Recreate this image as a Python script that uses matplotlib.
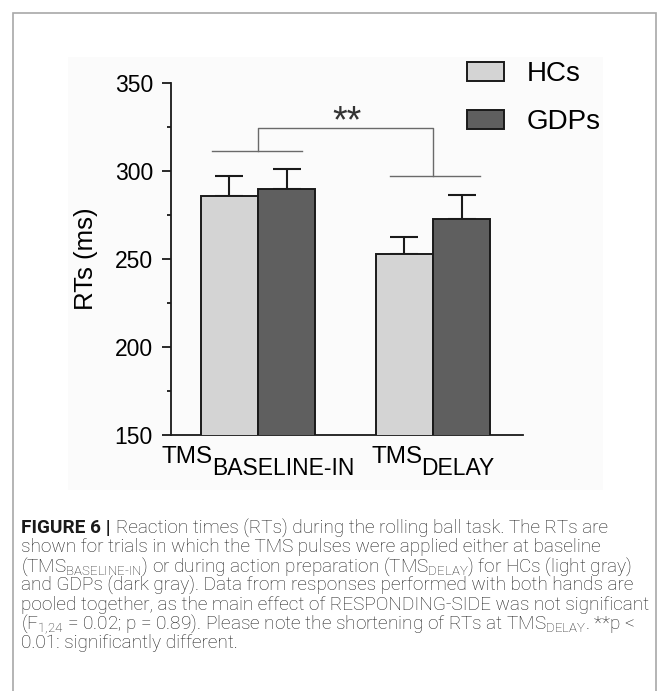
"""
Reaction times (RTs) during the rolling ball task, HCs vs GDPs
"""

import matplotlib
matplotlib.use('Agg')
import matplotlib.pyplot as plt
import numpy as np
from matplotlib.patches import Patch, Rectangle
from matplotlib.transforms import blended_transform_factory, offset_copy, IdentityTransform

# data
conditions = ['BASELINE-IN', 'DELAY']
group_names = ['HCs', 'GDPs']
hc_means = [285.7, 252.8]
hc_sem = [11.2, 9.4]
gdp_means = [289.5, 272.6]
gdp_sem = [11.7, 13.6]
y_ticks = [150, 200, 250, 300, 350]
y_minor = [175, 225, 275, 325]
sig_label = '**'

caption_bold = 'FIGURE 6 |'
caption_lines = [
    'Reaction times (RTs) during the rolling ball task. The RTs are',
    'shown for trials in which the TMS pulses were applied either at baseline',
    r'(TMS$_{\text{BASELINE-IN}}$) or during action preparation (TMS$_{\text{DELAY}}$) for HCs (light gray)',
    'and GDPs (dark gray). Data from responses performed with both hands are',
    'pooled together, as the main effect of RESPONDING-SIDE was not significant',
    r'(F$_{\text{1,24}}$ = 0.02; p = 0.89). Please note the shortening of RTs at TMS$_{\text{DELAY}}$. **p <',
    '0.01: significantly different.',
]

plt.rcParams['font.family'] = ['Liberation Sans', 'DejaVu Sans']
cap_family = ['Roboto', 'Liberation Sans', 'DejaVu Sans']
plt.rcParams['mathtext.fontset'] = 'custom'
plt.rcParams['mathtext.rm'] = 'Roboto:light'
plt.rcParams['mathtext.it'] = 'Roboto:italic'
plt.rcParams['mathtext.bf'] = 'Roboto:bold'

W, H = 663, 691
fig = plt.figure(figsize=(W / 100, H / 100), dpi=100)
renderer = fig.canvas.get_renderer()

# outer frame (cut at the bottom like the page)
fig.patches.append(Rectangle((13, -10), 643, H - 13 + 10, transform=IdentityTransform(),
                             fill=False, edgecolor='#a8a8a8', linewidth=1.2, zorder=5))
# faint background of the chart image
fig.patches.append(Rectangle((68, H - 490), 535, 433, transform=IdentityTransform(),
                             facecolor='#fbfbfb', edgecolor='none', zorder=-1))

ax = fig.add_axes([171 / W, 1 - 435 / H, 352 / W, 352.3 / H])
ax.patch.set_alpha(0)

x = np.arange(len(conditions))
w = 0.326
hc_color = '#d4d4d4'
gdp_color = '#5f5f5f'
edge = '#1a1a1a'

ax.bar(x - w / 2, hc_means, w, color=hc_color, edgecolor=edge, linewidth=1.4, zorder=3)
ax.bar(x + w / 2, gdp_means, w, color=gdp_color, edgecolor=edge, linewidth=1.4, zorder=3)
ax.errorbar(x - w / 2, hc_means, yerr=[np.zeros(2), hc_sem], fmt='none',
            ecolor=edge, elinewidth=1.5, capsize=10.4, capthick=1.5, zorder=2)
ax.errorbar(x + w / 2, gdp_means, yerr=[np.zeros(2), gdp_sem], fmt='none',
            ecolor=edge, elinewidth=1.5, capsize=10.4, capthick=1.5, zorder=2)

# significance bracket between conditions
br_col = '#6a6a6a'
ax.plot([x[0] - 0.26, x[0] + 0.25], [311.4, 311.4], color=br_col, lw=1.0)
ax.plot([x[1] - 0.245, x[1] + 0.27], [297.0, 297.0], color=br_col, lw=1.0)
ax.plot([x[0], x[0], x[1], x[1]], [311.4, 324.5, 324.5, 297.0], color=br_col, lw=1.0)
ax.text(0.507, 327.8, sig_label, ha='center', va='center', fontsize=27, color='#333333')

ax.set_xlim(-0.497, 1.514)
ax.set_ylim(150, 350)
ax.set_yticks(y_ticks)
ax.set_yticks(y_minor, minor=True)
ax.tick_params(axis='y', which='major', length=6.5, width=1.3, pad=6.5,
               labelsize=16.5, color=edge)
ax.tick_params(axis='y', which='minor', length=3.2, width=1.3, color=edge)
ax.set_xticks([])
for side in ['top', 'right']:
    ax.spines[side].set_visible(False)
for side in ['left', 'bottom']:
    ax.spines[side].set_linewidth(1.3)
    ax.spines[side].set_color(edge)

ax.set_ylabel('RTs (ms)', fontsize=18.5)
ax.yaxis.set_label_coords((98 - 171) / 352, 0.5)

# x labels with full-size subscripts
trans = blended_transform_factory(ax.transData, fig.transFigure)
for xc, sub in zip(x, conditions):
    t1 = ax.text(xc, 1 - 462.7 / H, 'TMS', transform=trans, fontsize=17.5,
                 ha='left', va='baseline')
    t2 = ax.text(xc, 1 - 462.7 / H, sub, transform=trans, fontsize=16.5,
                 ha='left', va='baseline')
    w1 = t1.get_window_extent(renderer).width
    w2 = t2.get_window_extent(renderer).width
    tot = w1 + w2 - 1
    t1.set_transform(offset_copy(trans, fig=fig, x=-tot / 2, y=0, units='dots'))
    t2.set_transform(offset_copy(trans, fig=fig, x=-tot / 2 + w1 - 1, y=-12.3, units='dots'))

# legend
handles = [Patch(facecolor=hc_color, edgecolor=edge, linewidth=1.4),
           Patch(facecolor=gdp_color, edgecolor=edge, linewidth=1.4)]
fig.legend(handles, group_names, loc='upper left', bbox_to_anchor=(467 / W, 1 - 61.4 / H),
           frameon=False, fontsize=20, borderpad=0, borderaxespad=0,
           handlelength=1.33, handleheight=0.65, handletextpad=0.82, labelspacing=0.79)

# caption, font size fitted to the width of the longest line
cap_col = '#1e1e1e'
probe = fig.text(0, 0, caption_lines[4], fontsize=12, family=cap_family, fontweight='light')
cap_size = 12 * 626 / probe.get_window_extent(renderer).width
probe.remove()

x0 = 21
y0 = 533.3
dy = 19.2
tb = fig.text(x0, H - y0, caption_bold, transform=IdentityTransform(), fontsize=cap_size,
              family=cap_family, fontweight='bold', color='#1a1a1a', ha='left', va='baseline')
wb = tb.get_window_extent(renderer).width
for i, line in enumerate(caption_lines):
    xs = x0 + (wb + cap_size * 100 / 72 * 0.3 if i == 0 else 0)
    fig.text(xs, H - (y0 + i * dy), line, transform=IdentityTransform(), fontsize=cap_size,
             family=cap_family, fontweight='light', color=cap_col, ha='left', va='baseline')

fig.savefig('out.png', dpi=100)
